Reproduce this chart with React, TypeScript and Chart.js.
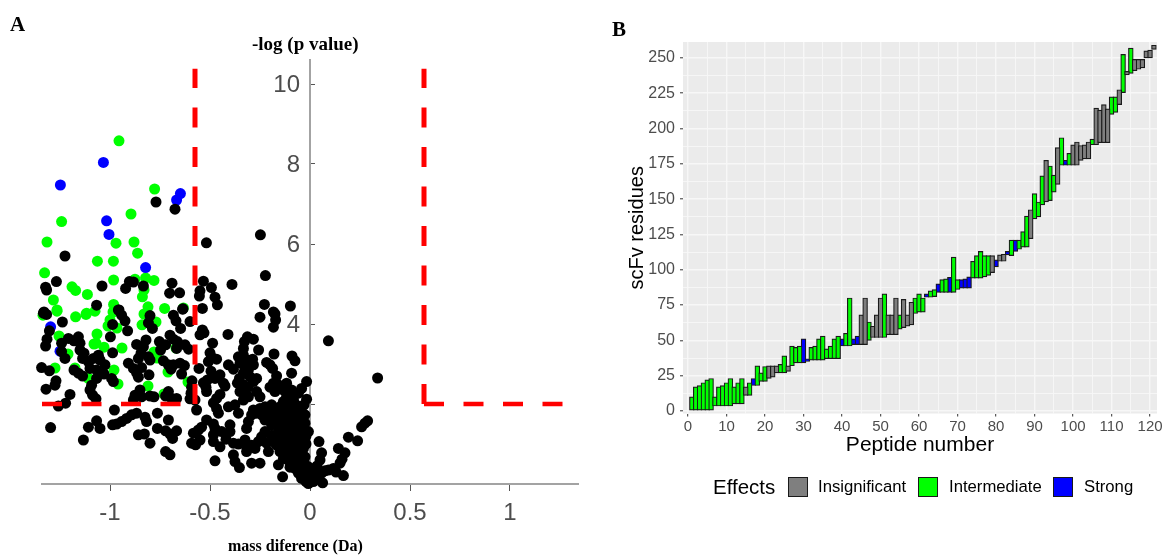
import React, { useEffect, useRef } from "react";
import { Chart, registerables } from "chart.js";

Chart.register(...registerables);

// ---------- Panel A: mass difference (x), -log p (y)
const greenPoints: number[][] = [
  [-0.955, 8.58], [-0.777, 7.375], [-0.895, 6.75], [-1.242, 6.56], [-1.315, 6.05], [-0.97, 6.02], [-0.88, 6.05],
  [-0.862, 5.77], [-1.063, 5.57], [-0.983, 5.57], [-1.327, 5.28], [-0.982, 5.1], [-0.875, 5.12], [-0.822, 5.15],
  [-0.78, 5.09], [-1.19, 4.93], [-1.172, 4.84], [-1.113, 4.74], [-1.283, 4.6], [-1.265, 4.35], [-0.83, 4.85],
  [-0.838, 4.68], [-0.982, 4.49], [-0.81, 4.43], [-0.727, 4.39], [-0.633, 4.4], [-1.117, 4.27], [-1.335, 4.22],
  [-1.265, 4.32], [-1.172, 4.18], [-1.12, 4.24], [-1.075, 4.32], [-0.985, 4.3], [-1.0, 4.1], [-1.01, 3.95],
  [-0.965, 3.9], [-0.83, 4.25], [-0.84, 3.98], [-0.77, 4.05], [-1.255, 3.7], [-1.065, 3.75], [-1.08, 3.5],
  [-1.07, 3.52], [-1.03, 3.42], [-0.94, 3.4], [-1.21, 3.25], [-0.78, 3.3], [-0.765, 3.15], [-0.67, 3.4],
  [-1.275, 2.9], [-1.175, 2.9], [-1.11, 2.65], [-0.98, 2.85], [-0.96, 2.5], [-0.71, 2.8], [-0.81, 2.45],
  [-0.73, 2.25], [-0.61, 2.55],
];
const bluePoints: number[][] = [
  [-1.033, 8.04], [-1.248, 7.475], [-0.648, 7.26], [-0.667, 7.1], [-1.017, 6.58], [-1.005, 6.24], [-0.822, 5.41],
  [-1.297, 3.93], [-1.25, 3.32],
];
const blackPoints: number[][] = [
  [-0.77, 7.05], [-0.675, 6.87], [-0.248, 6.23], [-0.518, 6.03], [-1.225, 5.7], [-0.223, 5.21], [-1.268, 5.06],
  [-1.322, 4.92], [-1.317, 4.85], [-1.04, 4.95], [-0.903, 5.06], [-0.883, 5.05], [-0.922, 4.89], [-0.833, 4.95],
  [-0.69, 5.02], [-0.702, 4.77], [-0.652, 4.78], [-0.533, 5.07], [-0.493, 4.91], [-0.55, 4.83], [-0.553, 4.7],
  [-0.39, 4.99], [-0.475, 4.67], [-0.463, 4.48], [-0.635, 4.38], [-0.538, 4.39], [-1.067, 4.47], [-0.955, 4.35],
  [-0.228, 4.49], [-0.098, 4.45], [-0.183, 4.3], [-1.33, 4.3], [-1.333, 4.27], [-1.317, 4.24], [-0.958, 4.35],
  [-0.942, 4.22], [-0.925, 4.08], [-0.912, 3.83], [-0.987, 3.99], [-0.998, 3.68], [-0.987, 3.28], [-1.238, 4.05],
  [-1.303, 3.83], [-1.315, 3.62], [-1.322, 3.45], [-0.8, 4.21], [-0.808, 4.03], [-0.788, 3.89], [-0.683, 4.22],
  [-0.67, 4.08], [-0.647, 3.89], [-0.637, 4.37], [-0.6, 4.06], [-0.25, 4.17], [-0.175, 4.25], [-0.172, 4.1],
  [-0.183, 3.92], [-0.538, 3.85], [-0.53, 3.78], [-0.55, 3.73], [-0.41, 3.74], [0.092, 3.58], [0.338, 2.65],
  [-0.313, 3.68], [-0.283, 3.62], [-0.328, 3.56], [-0.333, 3.39], [-0.257, 3.35], [-0.487, 3.52], [-0.5, 3.28],
  [-0.492, 3.17], [-0.467, 3.12], [-0.508, 3.06], [-0.18, 3.25], [-0.09, 3.2], [-0.075, 3.08], [-0.217, 3.04],
  [-0.2, 2.98], [-0.187, 2.89], [-0.167, 2.7], [-0.092, 2.77], [-0.358, 3.18], [-0.333, 3.22], [-0.317, 3.1],
  [-0.287, 3.12], [-0.283, 2.98], [-0.35, 3.02], [-0.408, 2.98], [-0.383, 2.87], [-0.325, 2.93], [-0.308, 2.85],
  [-0.333, 2.77], [-0.3, 2.68], [-0.267, 2.64], [-0.353, 2.64], [-0.363, 2.52], [-0.333, 2.48], [-0.283, 2.56],
  [-0.25, 2.18], [-0.267, 2.31], [-0.317, 2.22], [-0.35, 2.31], [-0.31, 2.42], [-0.335, 2.3],
  [-1.208, 3.64], [-1.158, 3.68], [-1.242, 3.52], [-1.18, 3.58], [-1.15, 3.52], [-1.15, 3.35], [-1.13, 3.27],
  [-1.137, 3.14], [-1.242, 3.31], [-1.225, 3.14], [-1.058, 3.22], [-1.083, 3.14], [-1.108, 3.06], [-1.05, 3.1],
  [-1.025, 2.98], [-1.1, 2.89], [-1.067, 2.85], [-1.067, 2.64], [-1.03, 2.75], [-0.992, 2.64], [-0.983, 2.56],
  [-1.18, 2.85], [-1.158, 2.77], [-1.137, 2.7], [-1.342, 2.91], [-1.303, 2.83], [-1.27, 2.58], [-1.275, 2.47],
  [-1.32, 2.37], [-1.092, 2.47], [-1.1, 2.35], [-1.087, 2.22], [-1.2, 2.24], [-1.222, 2.02], [-1.258, 1.95],
  [-1.07, 2.13], [-0.867, 3.49], [-0.82, 3.6], [-0.833, 3.43], [-0.845, 3.27], [-0.858, 3.14], [-0.808, 3.18],
  [-0.8, 3.1], [-0.908, 3.02], [-0.883, 2.89], [-0.842, 2.91], [-0.867, 2.78], [-0.858, 2.67], [-0.805, 2.73],
  [-0.753, 3.56], [-0.7, 3.72], [-0.683, 3.62], [-0.747, 3.35], [-0.722, 3.48], [-0.663, 3.56], [-0.625, 3.48],
  [-0.667, 3.39], [-0.607, 3.37], [-0.733, 3.08], [-0.708, 2.98], [-0.683, 2.98], [-0.695, 2.87], [-0.65, 3.02],
  [-0.628, 2.96], [-0.642, 2.75], [-0.555, 2.89], [-0.59, 2.58], [-0.592, 2.42], [-0.595, 2.27], [-0.6, 2.13],
  [-0.575, 2.1], [-0.567, 1.85], [-0.495, 2.82], [-0.45, 2.73], [-0.475, 2.64], [-0.513, 2.6], [-0.533, 2.53],
  [-0.52, 2.42], [-0.517, 2.31], [-0.433, 2.52], [-0.425, 2.45], [-0.45, 2.24], [-0.467, 2.14], [-0.483, 2.03],
  [-0.467, 1.89], [-0.458, 1.77], [-0.408, 1.93], [-0.375, 1.98], [-0.358, 1.77], [-0.333, 2.1], [-0.308, 2.18],
  [-0.85, 2.35], [-0.875, 2.22], [-0.842, 2.18], [-0.8, 2.2], [-0.78, 2.18], [-0.883, 2.1], [-0.708, 2.31],
  [-0.722, 2.2], [-0.692, 2.14], [-0.667, 2.14], [-0.978, 1.85], [-0.763, 1.77], [-0.708, 1.6], [-0.867, 1.77],
  [-0.892, 1.73], [-0.917, 1.64], [-0.942, 1.56], [-0.967, 1.5], [-0.987, 1.48], [-0.825, 1.67], [-0.817, 1.56],
  [-1.067, 1.58], [-1.108, 1.42], [-1.05, 1.39], [-1.297, 1.41], [-1.133, 1.1], [-0.858, 1.23], [-0.828, 1.25],
  [-0.8, 1.02], [-0.763, 1.39], [-0.722, 1.33], [-0.7, 1.25], [-0.667, 1.33], [-0.687, 1.14], [-0.722, 0.81],
  [-0.7, 0.73], [-0.592, 1.02], [-0.583, 1.27], [-0.558, 1.35], [-0.542, 1.42], [-0.572, 0.98], [-0.517, 1.6],
  [-0.483, 1.5], [-0.475, 1.39], [-0.483, 1.23], [-0.483, 1.06], [-0.442, 1.31], [-0.4, 1.48], [-0.4, 1.31],
  [-0.45, 0.93], [-0.475, 0.58], [-0.383, 1.02], [-0.383, 0.73], [-0.375, 0.56], [-0.353, 0.41], [-0.358, 1.0],
  [-0.325, 1.1], [-0.317, 0.81], [-0.292, 0.52], [-0.25, 0.52], [-0.208, 0.81], [-0.167, 0.97], [-0.158, 0.48],
  [-0.137, 0.18], [-0.42, 1.12], [-0.55, 1.1],
  [-0.017, 2.56], [-0.042, 2.39], [-0.058, 2.27], [-0.017, 2.12], [-0.117, 2.52], [-0.092, 2.35], [-0.133, 2.35],
  [-0.158, 2.48], [-0.183, 2.52], [-0.2, 2.42], [-0.175, 2.31], [-0.117, 2.18], [-0.083, 2.1], [-0.133, 2.06],
  [-0.042, 1.93], [-0.1, 1.93], [-0.15, 1.93], [-0.192, 1.98], [-0.225, 1.93], [-0.25, 1.89], [-0.283, 1.85],
  [-0.292, 1.73], [-0.308, 1.56], [-0.317, 1.39], [-0.267, 1.77], [-0.217, 1.77], [-0.167, 1.77], [-0.117, 1.77],
  [-0.067, 1.77], [-0.025, 1.73], [-0.083, 1.6], [-0.133, 1.6], [-0.183, 1.64], [-0.225, 1.6], [-0.025, 1.52],
  [-0.058, 1.48], [-0.1, 1.39], [-0.142, 1.43], [-0.192, 1.48], [-0.008, 1.31], [-0.042, 1.27], [-0.083, 1.18],
  [-0.117, 1.27], [-0.158, 1.31], [-0.192, 1.22], [-0.225, 1.31], [-0.242, 1.18], [-0.258, 1.06], [-0.292, 0.97],
  [-0.317, 0.93], [-0.275, 0.89], [-0.217, 1.02], [-0.167, 1.1], [-0.125, 1.06], [-0.083, 1.02], [-0.042, 1.06],
  [-0.033, 0.89], [-0.075, 0.85], [-0.117, 0.89], [-0.15, 0.81], [-0.1, 0.73], [-0.058, 0.68], [-0.025, 0.68],
  [-0.133, 0.64], [-0.092, 0.52], [-0.05, 0.52], [-0.075, 0.39], [-0.042, 0.35], [-0.008, 0.43], [-0.058, 0.27],
  [-0.025, 0.18], [-0.042, 0.14], [0, 0.14], [-0.008, 0.01], [0.017, 0.06], [0.025, 0.27], [-0.02, 0.06],
  [0.167, 0.21], [0.142, 0.89], [0.175, 0.78], [0.15, 0.52], [0.117, 0.39], [0.092, 0.35], [0.058, 0.27],
  [0.033, 0.18], [0.058, 0.78], [0.045, 1.06], [0.192, 1.17], [0.238, 1.08], [0.258, 1.43], [0.275, 1.52],
  [0.288, 1.58], [0.063, 0.03], [0.13, 0.3], [0.16, 0.62], [0.05, 0.6], [0.075, 0.33], [0.035, 0.45],
  [-0.11, 2.0], [-0.07, 1.98], [-0.03, 1.98], [-0.15, 1.85], [-0.2, 1.86], [-0.1, 1.85], [-0.05, 1.85],
  [-0.13, 1.7], [-0.1, 1.68], [-0.06, 1.68], [-0.16, 1.68], [-0.2, 1.68], [-0.24, 1.72], [-0.11, 1.5],
  [-0.08, 1.48], [-0.04, 1.6], [-0.16, 1.52], [-0.12, 1.4], [-0.06, 1.35], [-0.03, 1.4], [-0.14, 1.2],
  [-0.1, 1.2], [-0.06, 1.15], [-0.02, 1.2], [-0.18, 1.05], [-0.14, 0.95], [-0.1, 0.95], [-0.06, 0.95],
  [-0.02, 1.0], [-0.13, 0.78], [-0.08, 0.75], [-0.04, 0.75], [-0.11, 0.6], [-0.07, 0.6], [-0.03, 0.55],
  [-0.1, 0.42], [-0.06, 0.45], [-0.02, 0.35], [-0.04, 0.25], [-0.01, 0.25], [0.01, 0.12],
];

const leftDashH: number[][] = [[-1.34, 2], [-0.575, 2]];
const leftDashV: number[][] = [[-0.575, 2], [-0.575, 10.38]];
const rightDashV: number[][] = [[0.57, 2], [0.57, 10.38]];
const rightDashH: number[][] = [[0.57, 2], [1.275, 2]];

// ---------- Panel B: [peptide, first residue, last residue]
const insignificant: number[][] = [
  [15, 11, 17], [21, 23, 32], [22, 24, 32], [23, 27, 32], [26, 28, 32], [45, 47, 68], [46, 47, 80], [48, 52, 60],
  [49, 52, 68], [50, 52, 80], [52, 54, 68], [53, 54, 68], [54, 54, 80], [56, 59, 79], [57, 60, 68], [58, 61, 77],
  [79, 98, 110], [81, 106, 110.5], [82, 106, 111], [89, 122, 142.5], [93, 148, 177.5], [96, 160.5, 186.5],
  [100, 174, 188.5], [101, 174, 190.5], [102, 177.5, 188], [103, 178.5, 188.5], [104, 178.5, 190.5],
  [106, 188.5, 214.5], [107, 190, 213], [108, 190, 217], [109, 190, 214], [112, 217, 227.5], [114, 238, 240.5],
  [116, 241, 249], [117, 242, 249], [118, 243, 249], [119, 250, 255], [120, 250, 255.5], [121, 256, 259],
];
const intermediate: number[][] = [
  [1, 0, 10], [2, 0, 17], [3, 0, 18], [4, 0, 20], [5, 0, 22], [6, 0, 23], [7, 3.5, 10], [8, 3.5, 17], [9, 3.5, 18],
  [10, 3.5, 20], [11, 3.5, 23], [12, 5, 17], [13, 5, 20], [14, 5, 23], [16, 11, 20], [18, 18, 32], [19, 21, 27],
  [20, 21, 31.5], [24, 27, 33], [25, 27, 39], [27, 32, 46], [28, 34, 45], [29, 34, 46], [32, 36, 45], [33, 36, 46],
  [34, 36, 51], [35, 36, 53], [36, 37, 44], [37, 37, 46], [38, 37, 51], [39, 37, 53], [41, 46, 55], [42, 46, 80],
  [47, 50, 63], [51, 52, 83], [55, 58, 68], [59, 69, 80], [60, 70, 83], [61, 70, 80], [63, 80.5, 85], [64, 81, 86],
  [66, 84, 93], [67, 84, 93.5], [69, 84, 109], [70, 86, 93], [74, 94, 106], [75, 94, 110], [76, 94, 113],
  [77, 95, 110], [78, 96, 110], [84, 110, 121], [86, 114.5, 121], [87, 116, 127], [88, 116, 138], [90, 136, 154],
  [91, 137.5, 148], [92, 146, 166.5], [94, 149, 173.5], [95, 155, 167], [97, 174, 193.5], [99, 174, 182.5],
  [105, 188.5, 192.5], [110, 210, 222.5], [111, 211.5, 222.5], [113, 225.5, 252.5], [115, 239, 257],
];
const strong: number[][] = [
  [17, 18, 23], [30, 34, 51], [31, 35, 37], [40, 46, 51], [43, 47, 51], [44, 47, 53], [62, 80.5, 83], [65, 84, 90],
  [68, 84, 94.6], [71, 87, 93], [72, 87, 93.5], [73, 87, 95], [80, 102, 107], [83, 110.5, 113], [85, 113, 121],
  [98, 174, 177.5],
];

const legendItems = [
  { label: "Insignificant", colour: "#7F7F7F", box: 788, text: 818 },
  { label: "Intermediate", colour: "#00FF00", box: 918, text: 949 },
  { label: "Strong", colour: "#0000FF", box: 1053, text: 1084 },
];

const toXY = (rows: number[][]) => rows.map(([x, y]) => ({ x, y }));
const toBars = (rows: number[][]) => rows.map(([x, a, b]) => ({ x, y: [a, b] }));

const serif = '"Liberation Serif", "Times New Roman", serif';
const sans = '"Liberation Sans", Arial, sans-serif';

export default function App() {
  const leftRef = useRef<HTMLCanvasElement>(null);
  const rightRef = useRef<HTMLCanvasElement>(null);

  useEffect(() => {
    const dash = (rows: number[][], width: number) => ({
      type: "scatter",
      data: toXY(rows),
      showLine: true,
      borderColor: "#FF0000",
      borderWidth: width,
      borderDash: [20, 19.5],
      pointRadius: 0,
      fill: false,
      clip: false,
      order: 0,
    });
    const dots = (rows: number[][], colour: string, order: number, label: string) => ({
      label,
      data: toXY(rows),
      backgroundColor: colour,
      borderWidth: 0,
      pointRadius: 5.5,
      pointHoverRadius: 5.5,
      clip: false,
      order,
    });

    const left = new Chart(leftRef.current!, {
      type: "scatter",
      data: {
        datasets: [
          dash(leftDashH, 4.5), dash(leftDashV, 5), dash(rightDashV, 5), dash(rightDashH, 4.5),
          dots(blackPoints, "#000000", 1, "black"),
          dots(bluePoints, "#0000FF", 2, "blue"),
          dots(greenPoints, "#00FF00", 3, "green"),
        ] as any,
      },
      options: {
        animation: false,
        responsive: false,
        layout: { padding: { left: 42, right: 22, top: 60, bottom: 72 } },
        plugins: { legend: { display: false }, tooltip: { enabled: false } },
        scales: {
          x: {
            type: "linear",
            position: { y: 0 } as any,
            min: -1.34,
            max: 1.34,
            grid: { drawOnChartArea: false, drawTicks: true, tickLength: 6, tickColor: "#555555", lineWidth: 1 },
            border: { color: "#A3A3A3", width: 2 },
            ticks: {
              stepSize: 0.5,
              includeBounds: false,
              color: "#4D4D4D",
              font: { family: sans, size: 24 },
              padding: 9,
              maxRotation: 0,
              callback: (v: any) => String(v),
            },
          },
          y: {
            type: "linear",
            position: { x: 0 } as any,
            min: 0,
            max: 10.6,
            grid: { drawOnChartArea: false, drawTicks: true, tickLength: -6, tickColor: "#555555", lineWidth: 1 },
            border: { color: "#A3A3A3", width: 2 },
            ticks: { stepSize: 2, includeBounds: false, display: false },
          },
          yLabels: {
            type: "linear",
            position: { x: -0.05 } as any,
            min: 0.04,
            max: 10.64,
            grid: { display: false, drawTicks: false },
            border: { display: false },
            afterBuildTicks: (s: any) => {
              s.ticks = [2, 4, 6, 8, 10].map((value) => ({ value }));
            },
            ticks: {
              color: "#4D4D4D",
              font: { family: sans, size: 24 },
              padding: 0,
              callback: (v: any) => String(v),
            },
          },
        },
      } as any,
    });

    const bars = (rows: number[][], colour: string, label: string) => ({
      label,
      data: toBars(rows),
      backgroundColor: colour,
      borderColor: "#1A1A1A",
      borderWidth: 1.2,
      borderSkipped: false,
      barThickness: 4.8,
      grouped: false,
    });

    const right = new Chart(rightRef.current!, {
      type: "bar",
      data: {
        datasets: [
          bars(insignificant, "#7F7F7F", "Insignificant"),
          bars(intermediate, "#00FF00", "Intermediate"),
          bars(strong, "#0000FF", "Strong"),
        ] as any,
      },
      options: {
        animation: false,
        responsive: false,
        layout: { padding: { left: 25, right: 9, top: 42, bottom: 98 } },
        plugins: {
          legend: { display: false },
          tooltip: { enabled: false },
          panelBg: { colour: "#EBEBEB" },
        },
        scales: {
          x: {
            type: "linear",
            offset: false,
            min: -1.3,
            max: 121.8,
            afterFit: (s: any) => { s.height = 44.5; },
            grid: {
              offset: false,
              color: "#F7F7F7",
              lineWidth: (c: any) => (c.tick && c.tick.value % 10 === 0 ? 1.4 : 0.9),
              tickColor: (c: any) => (c.tick && c.tick.value % 10 === 0 ? "#333333" : "rgba(0,0,0,0)"),
              tickWidth: 1,
              tickLength: 3,
            },
            border: { display: false },
            title: { display: true, text: "Peptide number", color: "#000000", font: { family: sans, size: 21 }, padding: 0 },
            ticks: {
              stepSize: 5,
              includeBounds: false,
              color: "#4D4D4D",
              font: { family: sans, size: 15 },
              padding: 1,
              maxRotation: 0,
              autoSkip: false,
              callback: (v: any) => (Number(v) % 10 === 0 ? String(v) : ""),
            },
          },
          y: {
            type: "linear",
            min: -1.8,
            max: 261.3,
            afterFit: (s: any) => { s.width = 58; },
            grid: {
              color: "#F7F7F7",
              lineWidth: (c: any) => (c.tick && c.tick.value % 25 === 0 ? 1.6 : 0.9),
              tickColor: (c: any) => (c.tick && c.tick.value % 25 === 0 ? "#333333" : "rgba(0,0,0,0)"),
              tickWidth: 1,
              tickLength: 3,
            },
            border: { display: false },
            title: { display: true, text: "scFv residues", color: "#000000", font: { family: sans, size: 20 }, padding: 0 },
            afterBuildTicks: (s: any) => {
              const t = [];
              for (const v of [0, 12.5, 25, 37.5, 50, 62.5, 75, 87.5, 100, 112.5, 125, 137.5, 150, 162.5, 175, 187.5, 200, 212.5, 225, 237.5, 250]) t.push({ value: v });
              s.ticks = t;
            },
            ticks: {
              color: "#4D4D4D",
              font: { family: sans, size: 16 },
              padding: 5,
              autoSkip: false,
              callback: (v: any) => (Number(v) % 25 === 0 ? String(v) : ""),
            },
          },
        },
      } as any,
      plugins: [
        {
          id: "panelBg",
          beforeDraw(chart: any, _a: any, opts: any) {
            const { ctx, chartArea: c } = chart;
            ctx.save();
            ctx.fillStyle = opts.colour;
            ctx.fillRect(c.left, c.top, c.right - c.left, c.bottom - c.top);
            ctx.restore();
          },
        },
      ],
    });

    return () => {
      left.destroy();
      right.destroy();
    };
  }, []);

  const text = (s: string, x: number, y: number, font: string, size: number, bold = false, colour = "#000") => (
    <span
      key={s}
      style={{
        position: "absolute",
        left: x,
        top: y,
        fontFamily: font,
        fontSize: size,
        fontWeight: bold ? 700 : 400,
        color: colour,
        lineHeight: 1,
        whiteSpace: "nowrap",
      }}
    >
      {s}
    </span>
  );

  return (
    <div style={{ position: "absolute", left: 0, top: 0, width: 1166, height: 556, overflow: "hidden", background: "#fff" }}>
      <canvas ref={leftRef} width={600} height={556} style={{ position: "absolute", left: 0, top: 0, display: "block" }} />
      <canvas ref={rightRef} width={566} height={556} style={{ position: "absolute", left: 600, top: 0, display: "block" }} />
      {text("A", 10, 14, serif, 21, true)}
      {text("B", 612, 19, serif, 21, true)}
      {text("-log (p value)", 252, 34, serif, 19, true)}
      {text("mass diference (Da)", 228, 538, serif, 16, true)}
      {text("Effects", 713, 477, sans, 20.5)}
      {legendItems.map((it) => (
        <React.Fragment key={it.label}>
          <div
            style={{
              position: "absolute",
              left: it.box,
              top: 477,
              width: 20,
              height: 20,
              boxSizing: "border-box",
              background: it.colour,
              border: "1.5px solid #1A1A1A",
            }}
          />
          {text(it.label, it.text, 479, sans, 16.7)}
        </React.Fragment>
      ))}
    </div>
  );
}
